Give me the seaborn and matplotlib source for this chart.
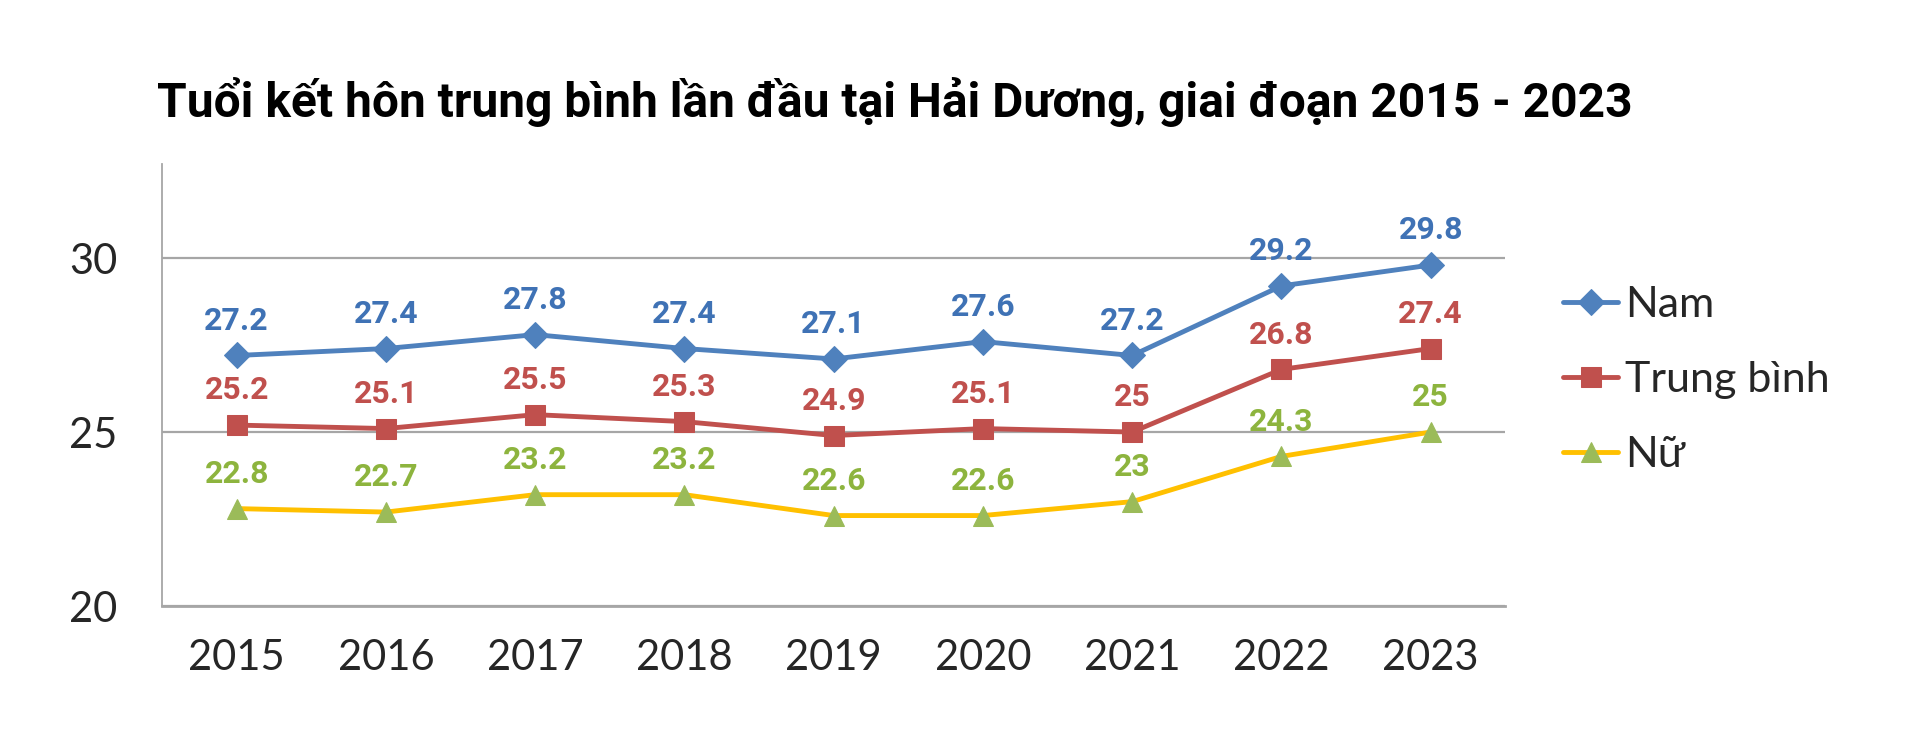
import matplotlib
matplotlib.use("Agg")
import matplotlib.pyplot as plt
import seaborn as sns
import pandas as pd

years = ["2015", "2016", "2017", "2018", "2019", "2020", "2021", "2022", "2023"]
nam = [27.2, 27.4, 27.8, 27.4, 27.1, 27.6, 27.2, 29.2, 29.8]
trung_binh = [25.2, 25.1, 25.5, 25.3, 24.9, 25.1, 25.0, 26.8, 27.4]
nu = [22.8, 22.7, 23.2, 23.2, 22.6, 22.6, 23.0, 24.3, 25.0]
series_names = ["Nam", "Trung bình", "Nữ"]
title = "Tuổi kết hôn trung bình lần đầu tại Hải Dương, giai đoạn 2015 - 2023"

sns.set_theme(style="white")
plt.rcParams['font.family'] = ['Lato', 'DejaVu Sans']
bold_font = ['Roboto', 'DejaVu Sans']

fig = plt.figure(figsize=(19.2, 7.36), dpi=100)
ax = fig.add_axes([0.0844, 0.1766, 0.784 - 0.0844, 0.777 - 0.1766])

x = list(range(len(years)))
df = pd.DataFrame({"x": x, "Nam": nam, "Trung bình": trung_binh, "Nữ": nu})

styles = {
    "Nam": dict(color="#4F81BD", marker="D", ms=13, mfc="#4F81BD", mec="#4F81BD", lab="#3F72B5"),
    "Trung bình": dict(color="#C0504D", marker="s", ms=14, mfc="#C0504D", mec="#C0504D", lab="#C0504D"),
    "Nữ": dict(color="#FFC000", marker="^", ms=15, mfc="#9BBB59", mec="#9BBB59", lab="#8DB43E"),
}

for name in series_names:
    s = styles[name]
    sns.lineplot(data=df, x="x", y=name, ax=ax, color=s["color"], linewidth=3.5,
                 marker=s["marker"], markersize=s["ms"], markerfacecolor=s["mfc"],
                 markeredgecolor=s["mec"], label=name, zorder=3)
    for xi, v in zip(x, df[name]):
        txt = f"{v:g}"
        ax.annotate(txt, (xi, v), xytext=(0, 25), textcoords="offset points",
                    ha="center", va="center", fontsize=23, fontweight="bold",
                    color=s["lab"], family=bold_font)

ax.set_xlim(-0.5, len(years) - 0.5)
ax.set_ylim(20, 32.7)
ax.set_yticks([20, 25, 30])
ax.set_xticks(x)
ax.set_xticklabels(years)
ax.set_xlabel("")
ax.set_ylabel("")
ax.yaxis.grid(True, color="#A6A6A6", linewidth=1.6)
ax.xaxis.grid(False)
for side in ["top", "right"]:
    ax.spines[side].set_visible(False)
ax.spines["left"].set_color("#A6A6A6")
ax.spines["left"].set_linewidth(1.3)
ax.spines["bottom"].set_color("#A6A6A6")
ax.spines["bottom"].set_linewidth(2)
ax.tick_params(axis="y", length=0, pad=32, labelsize=30)
ax.tick_params(axis="x", length=0, pad=24, labelsize=30)

leg = ax.legend(loc="center left", bbox_to_anchor=(1563 / 1920, 1 - 380 / 736),
                bbox_transform=fig.transFigure, frameon=False, borderpad=0,
                borderaxespad=0, fontsize=31, handlelength=1.28,
                handletextpad=0.16, labelspacing=0.85)

fig.text(157 / 1920, 1 - 102 / 736, title, ha="left", va="center",
         fontsize=34.5, fontweight="bold", family=bold_font, color="black")

fig.savefig("out.png", dpi=100, facecolor="white")
